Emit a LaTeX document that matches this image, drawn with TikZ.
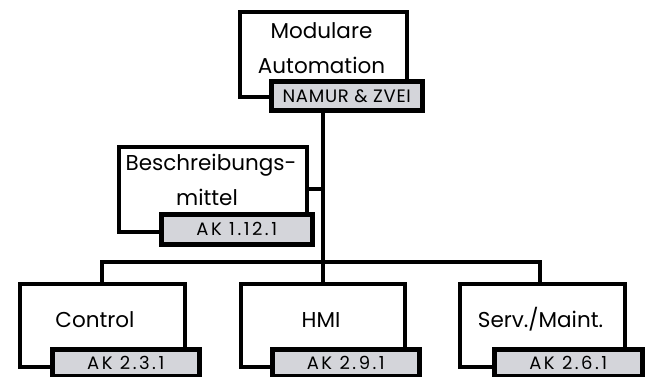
\documentclass[tikz,border=0pt]{standalone}
\usepackage{fontspec}
\setmainfont{Poppins}
\newfontfamily\tagfont[LetterSpace=14]{Poppins}
\newfontfamily\tagfontn[LetterSpace=4]{Poppins}
\definecolor{tagfill}{RGB}{212,213,218}
\begin{document}
\begin{tikzpicture}[x=1pt,y=-1pt,
  box/.style={draw=black, line width=4pt, fill=white, rectangle, inner sep=0pt, anchor=north west},
  tag/.style={draw=black, line width=4.5pt, fill=tagfill, rectangle, inner sep=0pt, anchor=north west, font=\tagfont\fontsize{18}{20}\selectfont},
  lbl/.style={align=center, inner sep=0pt, font=\fontsize{21.5}{35}\selectfont},
  wire/.style={draw=black, line width=4pt}]
\useasboundingbox (0,0) rectangle (645,376);
% top
\node[box, minimum width=167pt, minimum height=85pt] (top) at (238,10) {};
\node[lbl, anchor=base] (toptxt1) at (321.5,38) {Modulare};
\node[lbl, anchor=base] (toptxt2) at (321.5,73) {Automation};
\node[tag, minimum width=151pt, minimum height=29pt, font=\tagfontn\fontsize{18}{20}\selectfont] (toptag) at (269,79) {NAMUR \& ZVEI};
% Beschreibungsmittel
\node[box, minimum width=188pt, minimum height=85pt] (bm) at (117,145) {};
\node[lbl, anchor=base] (bmtxt1) at (211,170) {Beschreibungs-};
\node[lbl, anchor=base] (bmtxt2) at (207,205) {mittel};
\node[tag, minimum width=151pt, minimum height=30pt] (bmtag) at (159,212) {AK 1.12.1};
% bottom
\node[box, minimum width=165pt, minimum height=83pt] (ctl) at (18,282) {};
\node[lbl, anchor=base] (ctltxt) at (95,327) {Control};
\node[tag, minimum width=147pt, minimum height=27pt] (ctltag) at (50,347) {AK 2.3.1};
\node[box, minimum width=164pt, minimum height=83pt] (hmi) at (239,282) {};
\node[lbl, anchor=base] (hmitxt) at (321,327) {HMI};
\node[tag, minimum width=147pt, minimum height=27pt] (hmitag) at (270,347) {AK 2.9.1};
\node[box, minimum width=165pt, minimum height=83pt] (srv) at (458,282) {};
\node[lbl, anchor=base] (srvtxt) at (540.5,327) {Serv./Maint.};
\node[tag, minimum width=148pt, minimum height=27pt] (srvtag) at (492,347) {AK 2.6.1};
% connectors
\coordinate (bus) at (321,262);
\draw[wire] (toptag.south -| hmi.north) -- (hmi.north);
\draw[wire] (bm.east |- 0,189) -- (321,189);
\draw[wire] (ctl.north -| 102,0) |- (bus) -| (srv.north -| 540,0);
\end{tikzpicture}
\end{document}
